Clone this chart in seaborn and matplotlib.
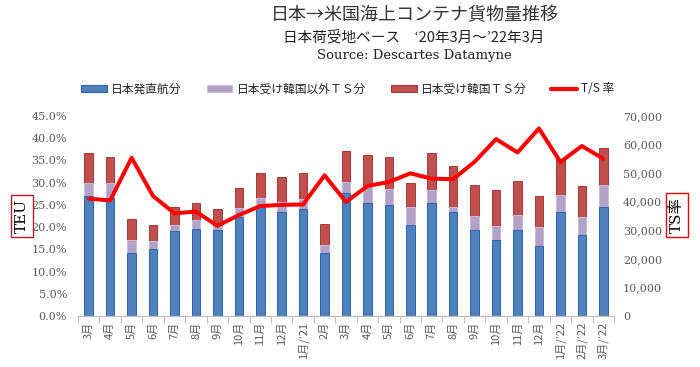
import numpy as np
import pandas as pd
import matplotlib
matplotlib.use("Agg")
import matplotlib.pyplot as plt
import seaborn as sns
from matplotlib.patches import Patch
from matplotlib.lines import Line2D

# ---------------- data ----------------
months = ["3月", "4月", "5月", "6月", "7月", "8月", "9月", "10月", "11月", "12月",
          "1月/’21", "2月", "3月", "4月", "5月", "6月", "7月", "8月", "9月", "10月",
          "11月", "12月", "1月/’22", "2月/’22", "3月/’22"]
direct = [42000, 41400, 21900, 23300, 29600, 30500, 30200, 34800, 38000, 36400,
          37600, 22200, 42900, 39700, 38900, 31900, 39700, 36400, 30100, 26600,
          30100, 24500, 36400, 28300, 38000]
ts_other = [4700, 5300, 4700, 3000, 2300, 3100, 1400, 2900, 3300, 3600,
            3500, 2800, 4000, 5800, 5400, 6100, 4400, 1900, 4900, 4900,
            5100, 6500, 5800, 6400, 7900]
ts_korea = [10400, 9000, 7300, 5400, 6200, 5900, 5900, 7000, 8900, 8600,
            8900, 7100, 10800, 10700, 11400, 8500, 13000, 14200, 10900, 12500,
            12200, 10900, 12600, 10700, 12800]
ts_ratio = [26.4, 26.0, 35.6, 27.0, 23.1, 23.5, 20.3, 22.7, 24.75, 25.0,
            25.1, 31.65, 25.65, 29.25, 30.15, 32.1, 30.9, 30.8, 34.7, 39.8,
            36.8, 42.2, 34.65, 38.25, 35.4]
left_ticks = [0, 5, 10, 15, 20, 25, 30, 35, 40, 45]
right_ticks = [0, 10000, 20000, 30000, 40000, 50000, 60000, 70000]
legend_labels = ["日本発直航分", "日本受け韓国以外ＴＳ分", "日本受け韓国ＴＳ分", "T/S 率"]

# ---------------- style ----------------
sns.set_theme(style="white")
plt.rcParams["font.family"] = ["Noto Sans CJK JP", "DejaVu Sans"]

c_blue, e_blue = "#4F81BD", "#2F64AE"
c_purp, e_purp = "#B3A2C7", "#C9BEDB"
c_red, e_red = "#C0504D", "#A53A37"
grey = "#595959"
serif = ["DejaVu Serif", "Noto Sans CJK JP"]

n = len(months)
df = pd.DataFrame({"pos": np.arange(n), "direct": direct,
                   "other": ts_other, "korea": ts_korea})
df["lvl2"] = df["direct"] + df["other"]
df["lvl3"] = df["lvl2"] + df["korea"]

fig = plt.figure(figsize=(7, 3.67), dpi=100)
ax = fig.add_axes([78 / 700, 51 / 367, 536 / 700, 200 / 367])
ax2 = ax.twinx()

bw = 0.4
sns.barplot(data=df, x="pos", y="lvl3", color=c_red, saturation=1, width=bw,
            edgecolor=e_red, linewidth=0.7, ax=ax2)
sns.barplot(data=df, x="pos", y="lvl2", color=c_purp, saturation=1, width=bw,
            edgecolor=e_purp, linewidth=0.7, ax=ax2)
sns.barplot(data=df, x="pos", y="direct", color=c_blue, saturation=1, width=bw,
            edgecolor=e_blue, linewidth=0.7, ax=ax2)

sns.lineplot(x=np.arange(n), y=ts_ratio, color="#FF0000", linewidth=2.9, ax=ax)

ax.set_zorder(ax2.get_zorder() + 1)
ax.patch.set_visible(False)

ax.set_ylim(0, 45)
ax2.set_ylim(0, 70000)
ax.set_xlim(-0.5, n - 0.5)

ax.set_yticks(left_ticks)
ax.set_yticklabels([f"{v:.1f}%" for v in left_ticks], family="DejaVu Serif",
                   fontsize=8, color=grey)
ax2.set_yticks(right_ticks)
ax2.set_yticklabels([f"{v:,}" for v in right_ticks], family="DejaVu Serif",
                    fontsize=8, color=grey)
ax.tick_params(axis="y", length=0, pad=8)
ax2.tick_params(axis="y", length=0, pad=6.5)

ax.set_xticks(np.arange(n))
ax.set_xticklabels(months, rotation=90, fontsize=8, color=grey, va="top")
ax.set_xticks(np.arange(-0.5, n, 1), minor=True)
ax.tick_params(axis="x", which="major", length=0, pad=4)
ax.tick_params(axis="x", which="minor", length=5, width=0.8, color="#BFBFBF",
               direction="out", bottom=True)
ax.set_xlabel("")
ax.set_ylabel("")
ax2.set_xlabel("")
ax2.set_ylabel("")

for a in (ax, ax2):
    for s in ("top", "left", "right"):
        a.spines[s].set_visible(False)
ax2.spines["bottom"].set_visible(False)
ax.spines["bottom"].set_color("#BFBFBF")
ax.spines["bottom"].set_linewidth(0.9)

# axis labels in boxes
fig.text(22 / 700, 1 - 216 / 367, "TEU", rotation=90, ha="center", va="center",
         fontsize=11, family="DejaVu Serif", color="black",
         bbox=dict(boxstyle="square,pad=0.25", fc="white", ec="#B22222", lw=1))
fig.text(677 / 700, 1 - 215 / 367, "TS率", rotation=90, ha="center", va="center",
         fontsize=11, family=serif, color="black",
         bbox=dict(boxstyle="square,pad=0.25", fc="white", ec="#F00000", lw=1))

# titles
fig.text(415 / 700, 1 - 15 / 367, "日本→米国海上コンテナ貨物量推移", ha="center",
         va="center", fontsize=13, color="#333333")
fig.text(414 / 700, 1 - 37 / 367, "日本荷受地ベース　‘20年3月～’22年3月", ha="center",
         va="center", fontsize=10.5, color="#222222")
fig.text(414 / 700, 1 - 56 / 367, "Source: Descartes Datamyne", ha="center",
         va="center", fontsize=9.5, family="DejaVu Serif", color="#222222")

handles = [Patch(fc=c_blue, ec=e_blue, lw=0.8),
           Patch(fc=c_purp, ec=e_purp, lw=0.8),
           Patch(fc=c_red, ec=e_red, lw=0.8),
           Line2D([], [], color="#FF0000", lw=3)]
fig.legend(handles, legend_labels, loc="center", bbox_to_anchor=(0.497, 1 - 89 / 367),
           ncol=4, frameon=False, fontsize=8.5, handlelength=2.2, handleheight=0.5,
           handletextpad=0.35, columnspacing=2.1, labelcolor="#222222")

fig.savefig("out.png", dpi=100)
